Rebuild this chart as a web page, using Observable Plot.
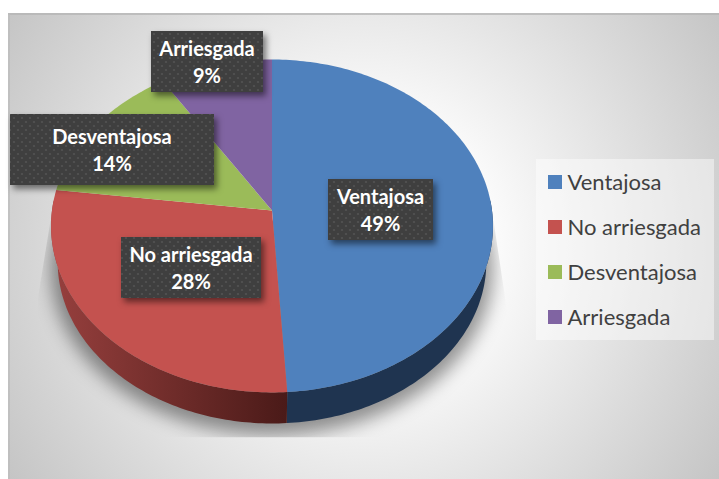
<!DOCTYPE html>
<html><head><meta charset="utf-8">
<script src="https://cdn.jsdelivr.net/npm/d3@7"></script>
<script src="https://cdn.jsdelivr.net/npm/@observablehq/plot@0.6"></script>
<style>html,body{margin:0;padding:0;background:#fff}svg{display:block}</style>
</head><body><div id="chart"></div>
<script>
const categories = ["Ventajosa", "No arriesgada", "Desventajosa", "Arriesgada"];
const shares = [49, 28, 14, 9];
const colors = ["#4f81bd", "#c4524f", "#9bbb59", "#8064a2"];

// Layout of the tilted pie (pixel space of the frame)
const W = 719, H = 479;
const pie = {cx: 271.5, cy: 210, rx: 220, ry: 165, k: 0.093};
const wall = {scale: 0.97, drop: 36.5};
const labelBoxes = [
  {x1: 328, x2: 433, y1: 179, y2: 240},
  {x1: 121, x2: 261, y1: 237, y2: 298},
  {x1: 10, x2: 214, y1: 114, y2: 185},
  {x1: 151, x2: 263, y1: 31, y2: 92}
];
const legendBox = {x1: 536, x2: 714, y1: 159, y2: 340};
const legendRows = [182, 227, 272, 317];

const total = d3.sum(shares);
let acc = 0;
const slices = categories.map((name, i) => {
  const s = {name, share: shares[i], i, f0: acc / total, f1: (acc + shares[i]) / total};
  acc += shares[i];
  return s;
});

function rim(f, s = 1, drop = 0) {
  const t = 2 * Math.PI * f, u = Math.sin(t), v = -Math.cos(t), den = 1 - pie.k * v;
  return {x: pie.cx + s * pie.rx * u / den, y: pie.cy + s * pie.ry * v / den + drop};
}
function arc(f0, f1, s, drop) {
  const n = Math.max(2, Math.ceil((f1 - f0) * 360));
  return d3.range(n + 1).map(j => rim(f0 + (f1 - f0) * j / n, s, drop));
}
const sliceOutline = sl => [{x: pie.cx, y: pie.cy}, ...arc(sl.f0, sl.f1, 1, 0)].map(p => ({...p, name: sl.name}));
const topFaces = slices.flatMap(sliceOutline);
const wallFace = (f0, f1) => [...arc(f0, f1, 1, 0), ...arc(f0, f1, wall.scale, wall.drop).reverse()];
const blueWall = wallFace(0.24, slices[0].f1);
const redWall = wallFace(slices[1].f0, 0.76);
const shadow = arc(0, 1, 1, wall.drop + 6);

const defs = () => {
  const g = d3.create("svg:defs");
  g.html(`
    <radialGradient id="bg" gradientUnits="userSpaceOnUse" cx="365" cy="245" r="430">
      <stop offset="0.25" stop-color="#ffffff"/><stop offset="1" stop-color="#c4c4c4"/>
    </radialGradient>
    <linearGradient id="redwall" gradientUnits="userSpaceOnUse" x1="55" y1="0" x2="287" y2="0">
      <stop offset="0" stop-color="#963f3d"/><stop offset="1" stop-color="#4a1a18"/>
    </linearGradient>
    <pattern id="dots" patternUnits="userSpaceOnUse" width="8" height="8">
      <rect width="8" height="8" fill="#3f3f3f"/>
      <circle cx="2" cy="2" r="1.1" fill="#535353"/><circle cx="6" cy="6" r="1.1" fill="#535353"/>
    </pattern>
    <clipPath id="shadowClip"><polygon points="50,220 37,300 37,437 507,437 507,313 493,220"/></clipPath>
  `);
  return g.node();
};
const clipped = (index, scales, values, dim, ctx, next) => {
  const g = next(index, scales, values, dim, ctx);
  g.setAttribute("clip-path", "url(#shadowClip)");
  return g;
};
const fonts = "Lato, Carlito, sans-serif";

const chart = Plot.plot({
  width: W, height: H, margin: 0,
  style: {background: "#fff"},
  x: {domain: [0, W], range: [0, W], axis: null},
  y: {domain: [0, H], range: [0, H], axis: null},
  color: {domain: categories, range: colors},
  marks: [
    defs,
    Plot.rect([{x1: 8, x2: W, y1: 13, y2: H}], {x1: "x1", x2: "x2", y1: "y1", y2: "y2", fill: "url(#bg)"}),
    Plot.ruleY([13.5], {x1: 8, x2: W, stroke: "#b4b4b4", strokeWidth: 1.5}),
    Plot.ruleX([8.5], {y1: 13, y2: H, stroke: "#bcbcbc", strokeWidth: 1.5}),
    Plot.line(shadow, {x: "x", y: "y", fill: "#000", stroke: "none", fillOpacity: 0.42, imageFilter: "blur(9px)", render: clipped}),
    Plot.line(blueWall, {x: "x", y: "y", fill: "#1f3450", stroke: "none"}),
    Plot.line(redWall, {x: "x", y: "y", fill: "url(#redwall)", stroke: "none"}),
    Plot.line(topFaces, {x: "x", y: "y", z: "name", fill: "name", stroke: "none"}),
    Plot.rect(labelBoxes, {x1: "x1", x2: "x2", y1: "y1", y2: "y2", fill: "url(#dots)", imageFilter: "drop-shadow(3px 4px 3px rgba(0,0,0,0.5))"}),
    Plot.text(slices, {
      x: d => (labelBoxes[d.i].x1 + labelBoxes[d.i].x2) / 2 - 0.5,
      y: d => (labelBoxes[d.i].y1 + labelBoxes[d.i].y2) / 2 - 1,
      text: d => `${d.name}\n${d.share}%`,
      fill: "#fff", fontWeight: 700, fontSize: 20, fontFamily: fonts, lineHeight: 1.35, textAnchor: "middle"
    }),
    Plot.rect([legendBox], {x1: "x1", x2: "x2", y1: "y1", y2: "y2", fill: "#fff", fillOpacity: 0.45}),
    Plot.rect(slices, {
      x1: () => 548, x2: () => 562,
      y1: d => legendRows[d.i] - 7, y2: d => legendRows[d.i] + 7,
      fill: "name"
    }),
    Plot.text(slices, {
      x: () => 567, y: d => legendRows[d.i], text: "name",
      fill: "#404040", fontSize: 22, fontFamily: fonts, textAnchor: "start"
    })
  ]
});
document.getElementById("chart").append(chart);
</script></body></html>
